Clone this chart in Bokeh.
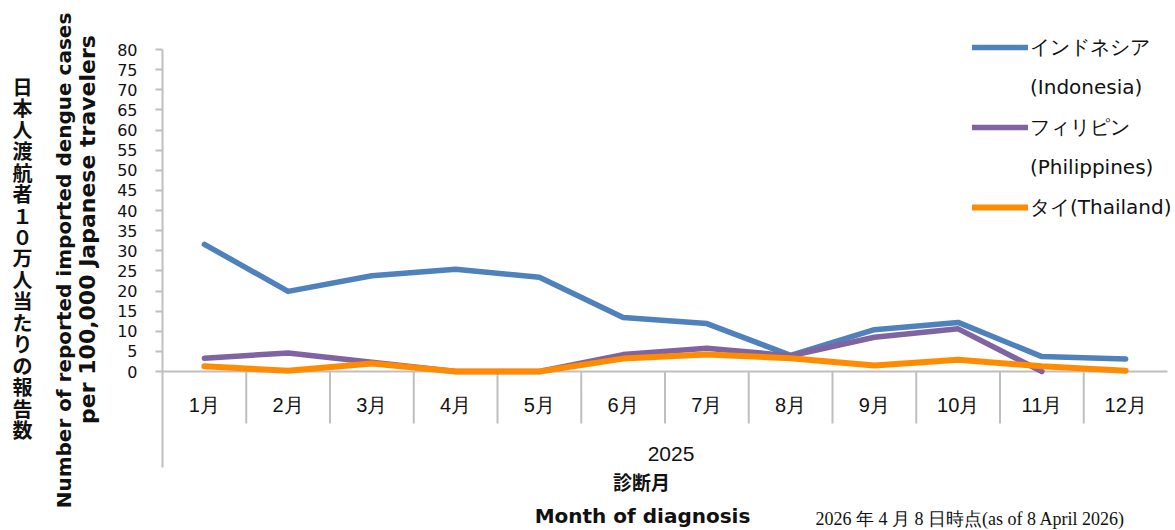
import math
from bokeh.plotting import figure
from bokeh.layouts import row
from bokeh.models import ColumnDataSource, FixedTicker, Label, Legend, LegendItem, Range1d
from bokeh.embed import file_html
from bokeh.resources import INLINE

# ---------------- data ----------------
months = ["1月", "2月", "3月", "4月", "5月", "6月", "7月", "8月", "9月", "10月", "11月", "12月"]
year_label = "2025"
indonesia = [31.6, 19.9, 23.8, 25.4, 23.4, 13.4, 11.9, 4.0, 10.4, 12.2, 3.7, 3.1]
philippines = [3.3, 4.6, 2.3, 0.0, 0.0, 4.2, 5.8, 3.9, 8.5, 10.6, 0.0, float("nan")]
thailand = [1.3, 0.2, 2.0, 0.0, 0.0, 3.2, 4.2, 3.3, 1.5, 2.9, 1.3, 0.2]
y_ticks = list(range(0, 81, 5))
legend_labels = ["インドネシア", "(Indonesia)", "フィリピン", "(Philippines)", "タイ(Thailand)"]
y_title_ja = "日本人渡航者１０万人当たりの報告数"
y_title_en1 = "Number of reported imported dengue cases"
y_title_en2 = "per 100,000 Japanese travelers"
x_title_ja = "診断月"
x_title_en = "Month of diagnosis"
note_text = "2026 年 4 月 8 日時点(as of 8 April 2026)"

# ---------------- styles ----------------
C_IND = "#4F81BD"
C_PHI = "#8064A2"
C_THA = "#FF8C00"
C_AX = "#BFBFBF"
TXT = "#111111"
W, H = 1175, 530
LW = 104            # width of the left title strip
FRAME_LEFT = 162    # page x of the value axis
Y_TOP_PX = 49       # page y of value 80
Y_ZERO_PX = 371     # page y of value 0
CAT_W = (W - 8 - FRAME_LEFT) / len(months)

k = (Y_ZERO_PX - Y_TOP_PX) / 80.0
y_lo = -(H - Y_ZERO_PX) / k
y_hi = 80 + Y_TOP_PX / k
y_axis_bottom = -(467 - Y_ZERO_PX) / k
x_lo = 0.5
x_hi = 0.5 + (W - FRAME_LEFT) / CAT_W

# ---------------- left title strip ----------------
left = figure(width=LW, height=H, output_backend="svg", toolbar_location=None,
              x_range=Range1d(0, 1), y_range=Range1d(0, 1),
              x_axis_location=None, y_axis_location=None,
              min_border_left=0, min_border_right=0, min_border_top=0, min_border_bottom=0)
left.outline_line_color = None
left.grid.visible = False
left.add_layout(Label(x=22, y=H - 257.5, x_units="screen", y_units="screen", text="\n".join(y_title_ja),
                      text_align="center", text_baseline="middle", text_font="Noto Sans CJK JP",
                      text_font_size="20px", text_font_style="bold", text_line_height=0.74, text_color=TXT))
left.add_layout(Label(x=63, y=H - 260, x_units="screen", y_units="screen", text=y_title_en1, angle=math.pi / 2,
                      text_align="center", text_baseline="middle", text_font="DejaVu Sans",
                      text_font_size="20px", text_font_style="bold", text_color=TXT))
left.add_layout(Label(x=87, y=H - 229, x_units="screen", y_units="screen", text=y_title_en2, angle=math.pi / 2,
                      text_align="center", text_baseline="middle", text_font="DejaVu Sans",
                      text_font_size="22px", text_font_style="bold", text_color=TXT))

# ---------------- main chart ----------------
xs = list(range(1, len(months) + 1))
src = ColumnDataSource(dict(x=xs, ind=indonesia, phi=philippines, tha=thailand, label=months))

p = figure(width=W - LW, height=H, output_backend="svg", toolbar_location=None,
           x_range=Range1d(x_lo, x_hi), y_range=Range1d(y_lo, y_hi),
           x_axis_location=None,
           min_border_left=FRAME_LEFT - LW, min_border_right=0, min_border_top=0, min_border_bottom=0)
p.outline_line_color = None
p.background_fill_color = "white"
p.border_fill_color = "white"
p.grid.visible = False

yax = p.yaxis[0]
yax.ticker = FixedTicker(ticks=y_ticks)
yax.bounds = (y_axis_bottom, 80)
yax.axis_line_color = C_AX
yax.axis_line_width = 2
yax.major_tick_line_color = C_AX
yax.major_tick_line_width = 2
yax.major_tick_out = 7
yax.major_tick_in = 0
yax.minor_tick_line_color = None
yax.major_label_standoff = 18
yax.major_label_text_font = "DejaVu Sans"
yax.major_label_text_font_size = "16px"
yax.major_label_text_color = TXT

# category axis line and separators
p.segment(x0=[0.5], y0=[0], x1=[len(months) + 0.5], y1=[0], line_color=C_AX, line_width=2)
bounds = [i + 0.5 for i in xs[:-1]]
p.segment(x0=bounds, y0=[0] * len(bounds), x1=bounds, y1=[-(423 - Y_ZERO_PX) / k] * len(bounds),
          line_color=C_AX, line_width=2)

# month labels
p.text(x="x", y=-(404 - Y_ZERO_PX) / k, text="label", source=src, text_align="center",
       text_baseline="middle", text_font_size="20px", text_color=TXT)
# year group label
p.text(x=[(xs[0] + xs[-1]) / 2], y=[-(453.5 - Y_ZERO_PX) / k], text=[year_label], text_align="center",
       text_baseline="middle", text_font_size="21px", text_color=TXT, x_offset=6)

# data lines
r_ind = p.line("x", "ind", source=src, line_color=C_IND, line_width=5.5, line_cap="round", line_join="round")
r_phi = p.line("x", "phi", source=src, line_color=C_PHI, line_width=5.5, line_cap="round", line_join="round")
r_tha = p.line("x", "tha", source=src, line_color=C_THA, line_width=6, line_cap="round", line_join="round")
r_blank = p.line("x", "ind", source=src, line_alpha=0)

legend = Legend(items=[
    LegendItem(label=legend_labels[0], renderers=[r_ind]),
    LegendItem(label=legend_labels[1], renderers=[r_blank]),
    LegendItem(label=legend_labels[2], renderers=[r_phi]),
    LegendItem(label=legend_labels[3], renderers=[r_blank]),
    LegendItem(label=legend_labels[4], renderers=[r_tha]),
], location=(972 - FRAME_LEFT, H - 222), orientation="vertical", glyph_width=56, glyph_height=30,
    label_height=30, label_standoff=2, spacing=10, padding=0, margin=0,
    border_line_color=None, background_fill_alpha=0,
    label_text_font="DejaVu Sans", label_text_font_size="20px", label_text_color=TXT)
p.add_layout(legend)

# x titles and note (screen units relative to the main frame's bottom-left)
p.add_layout(Label(x=641 - FRAME_LEFT, y=H - 481, x_units="screen", y_units="screen", text=x_title_ja,
                   text_align="center", text_baseline="middle", text_font="Noto Sans CJK JP",
                   text_font_size="19px", text_font_style="bold", text_color=TXT))
p.add_layout(Label(x=642 - FRAME_LEFT, y=H - 515, x_units="screen", y_units="screen", text=x_title_en,
                   text_align="center", text_baseline="middle", text_font="DejaVu Sans",
                   text_font_size="20px", text_font_style="bold", text_color=TXT))
p.add_layout(Label(x=815 - FRAME_LEFT, y=2, x_units="screen", y_units="screen", text=note_text,
                   text_align="left", text_baseline="bottom", text_font="Liberation Serif",
                   text_font_size="18px", text_color=TXT))

layout = row(left, p, spacing=0)
open("out.html", "w").write(file_html(layout, INLINE))
